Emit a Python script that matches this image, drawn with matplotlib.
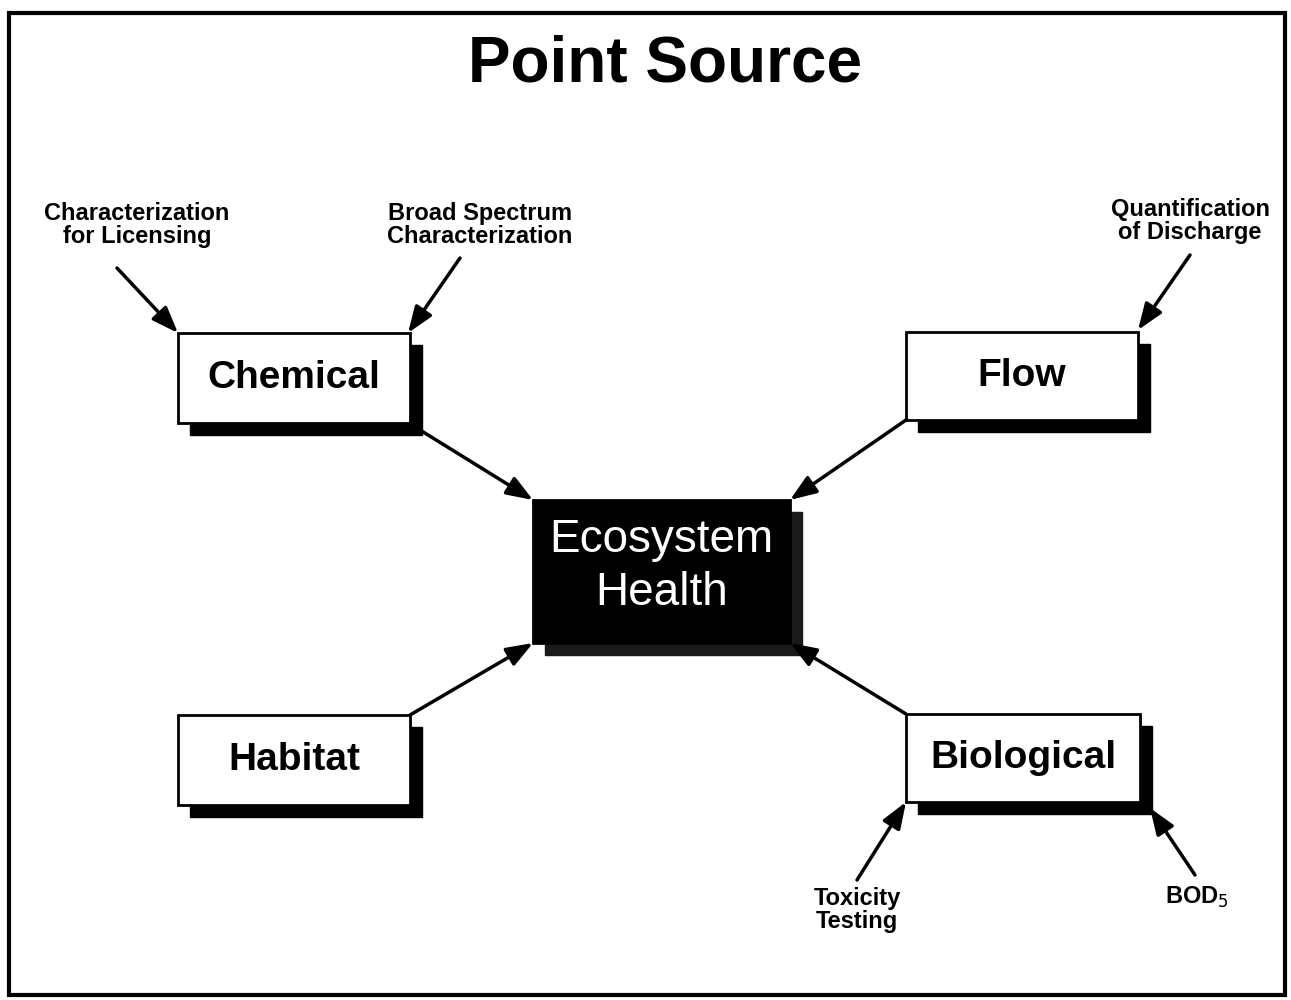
import matplotlib.pyplot as plt
from matplotlib.patches import Rectangle

# Diagram content
TITLE = "Point Source"
NODE_NAMES = ["Chemical", "Flow", "Habitat", "Biological"]
# box extents in pixel space: (left, top, right, bottom)
NODE_BOXES = [(178, 333, 410, 423), (906, 332, 1138, 420),
              (178, 715, 410, 805), (906, 714, 1140, 802)]
CENTER_NAME = "Ecosystem\nHealth"
CENTER_BOX = (533, 500, 790, 643)

NOTE_TEXTS = ["Characterization\nfor Licensing", "Broad Spectrum\nCharacterization",
              "Quantification\nof Discharge", "Toxicity\nTesting", r"BOD$_5$"]
NOTE_POS = [(137, 225), (480, 225), (1190, 221), (857, 910), (1197, 897)]
# arrows: (start, end)
NOTE_ARROWS = [((117, 268), (178, 333)), ((460, 258), (408, 333)),
               ((1190, 255), (1138, 330)), ((857, 880), (906, 802)),
               ((1195, 875), (1150, 808))]
HUB_ARROWS = [((420, 430), (533, 500)), ((906, 420), (790, 500)),
              ((410, 715), (533, 643)), ((906, 714), (790, 643))]

W, H = 1291, 1000
fig = plt.figure(figsize=(W / 100, H / 100), dpi=100)
ax = fig.add_axes([0, 0, 1, 1])
ax.set_xlim(0, W)
ax.set_ylim(H, 0)
ax.axis('off')

sans = ['Liberation Sans', 'DejaVu Sans']

# outer frame
ax.add_patch(Rectangle((9, 13), 1276, 982, fill=False, ec='black', lw=3))

ax.text(665, 65, TITLE, ha='center', va='center', fontsize=46,
        fontweight='bold', family=sans)

SH = 12  # shadow offset


def box(ext, face, shadow):
    l, t, r, b = ext
    ax.add_patch(Rectangle((l + SH, t + SH), r - l, b - t, fc=shadow, ec=shadow, zorder=2))
    ax.add_patch(Rectangle((l, t), r - l, b - t, fc=face, ec='black', lw=2, zorder=3))


for name, ext in zip(NODE_NAMES, NODE_BOXES):
    box(ext, 'white', 'black')
    l, t, r, b = ext
    ax.text((l + r) / 2, (t + b) / 2, name, ha='center', va='center',
            fontsize=28, fontweight='bold', family=sans, zorder=4)

box(CENTER_BOX, 'black', '#1a1a1a')
l, t, r, b = CENTER_BOX
ax.text((l + r) / 2, (t + b) / 2 - 5, CENTER_NAME, ha='center', va='center',
        fontsize=33, color='white', family=sans, linespacing=1.28, zorder=4)

arrow_style = dict(arrowstyle='-|>,head_length=1.6,head_width=0.6', color='black',
                   lw=2.5, shrinkA=0, shrinkB=0)

for txt, pos in zip(NOTE_TEXTS, NOTE_POS):
    ax.text(pos[0], pos[1], txt, ha='center', va='center', fontsize=17,
            fontweight='bold', family=sans, linespacing=1.05, zorder=4)

for (s, e) in NOTE_ARROWS + HUB_ARROWS:
    ax.annotate('', xy=e, xytext=s, arrowprops=arrow_style, zorder=5)

fig.savefig('out.png', dpi=100)
